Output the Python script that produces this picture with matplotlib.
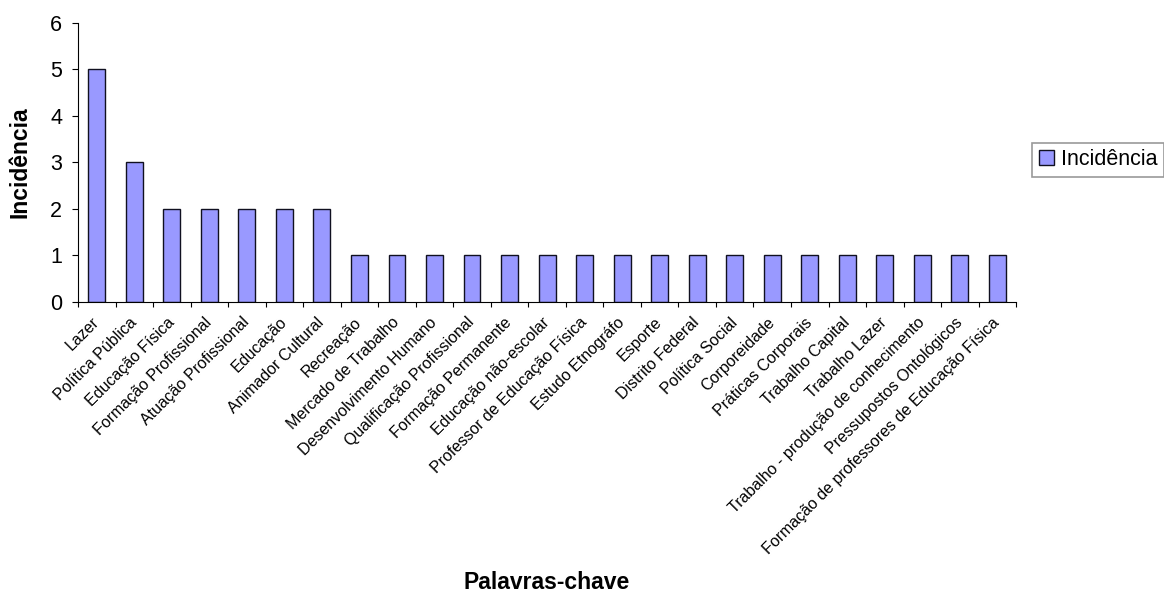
import numpy as np
import matplotlib.pyplot as plt

palavras = [
    "Lazer", "Política Pública", "Educação Física", "Formação Profissional",
    "Atuação Profissional", "Educação", "Animador Cultural", "Recreação",
    "Mercado de Trabalho", "Desenvolvimento Humano", "Qualificação Profissional",
    "Formação Permanente", "Educação não-escolar", "Professor de Educação Física",
    "Estudo Etnográfo", "Esporte", "Distrito Federal", "Política Social",
    "Corporeidade", "Práticas Corporais", "Trabalho Capital", "Trabalho Lazer",
    "Trabalho - produção de conhecimento", "Pressupostos Ontológicos",
    "Formação de professores de Educação Física",
]
incidencia = [5, 3, 2, 2, 2, 2, 2] + [1] * 18

plt.rcParams['font.family'] = ['Liberation Sans', 'DejaVu Sans']

fig = plt.figure(figsize=(11.64, 5.94), dpi=100)
ax = fig.add_axes([0.067, 0.4916, 0.806, 0.4697])

x = np.arange(len(palavras))
ax.bar(x, incidencia, width=0.45, color='#9999FF', edgecolor='#101020',
       linewidth=1.0, label='Incidência')

ax.set_xlim(-0.5, len(palavras) - 0.5)
ax.set_ylim(0, 6)
ax.set_yticks(range(7))
ax.tick_params(axis='y', labelsize=15.5, length=4.5, pad=7, direction='out')

# ticks sit between the categories, the names are drawn on minor ticks
ax.set_xticks(np.arange(len(palavras) + 1) - 0.5)
ax.set_xticklabels([])
ax.set_xticks(x, minor=True)
ax.set_xticklabels(palavras, minor=True, rotation=45, ha='right',
                   va='center', rotation_mode='anchor', fontsize=11.5)
ax.tick_params(axis='x', which='major', length=3.5, direction='out')
ax.tick_params(axis='x', which='minor', length=0, pad=13)

for side in ['top', 'right']:
    ax.spines[side].set_visible(False)

fig.text(0.017, 0.727, 'Incidência', fontsize=16.5, fontweight='bold',
         rotation=90, ha='center', va='center')
fig.text(0.47, 0.008, 'Palavras-chave', fontsize=16.5, fontweight='bold',
         ha='center', va='baseline')

leg = ax.legend(loc='upper left', bbox_to_anchor=(1.017, 0.57),
                borderaxespad=0, fontsize=15.5, frameon=True, fancybox=False,
                handlelength=0.7, handleheight=0.7, handletextpad=0.35,
                borderpad=0.3)
leg.get_frame().set_edgecolor('#808080')
leg.get_frame().set_linewidth(1.2)

fig.savefig('out.png', dpi=100)
